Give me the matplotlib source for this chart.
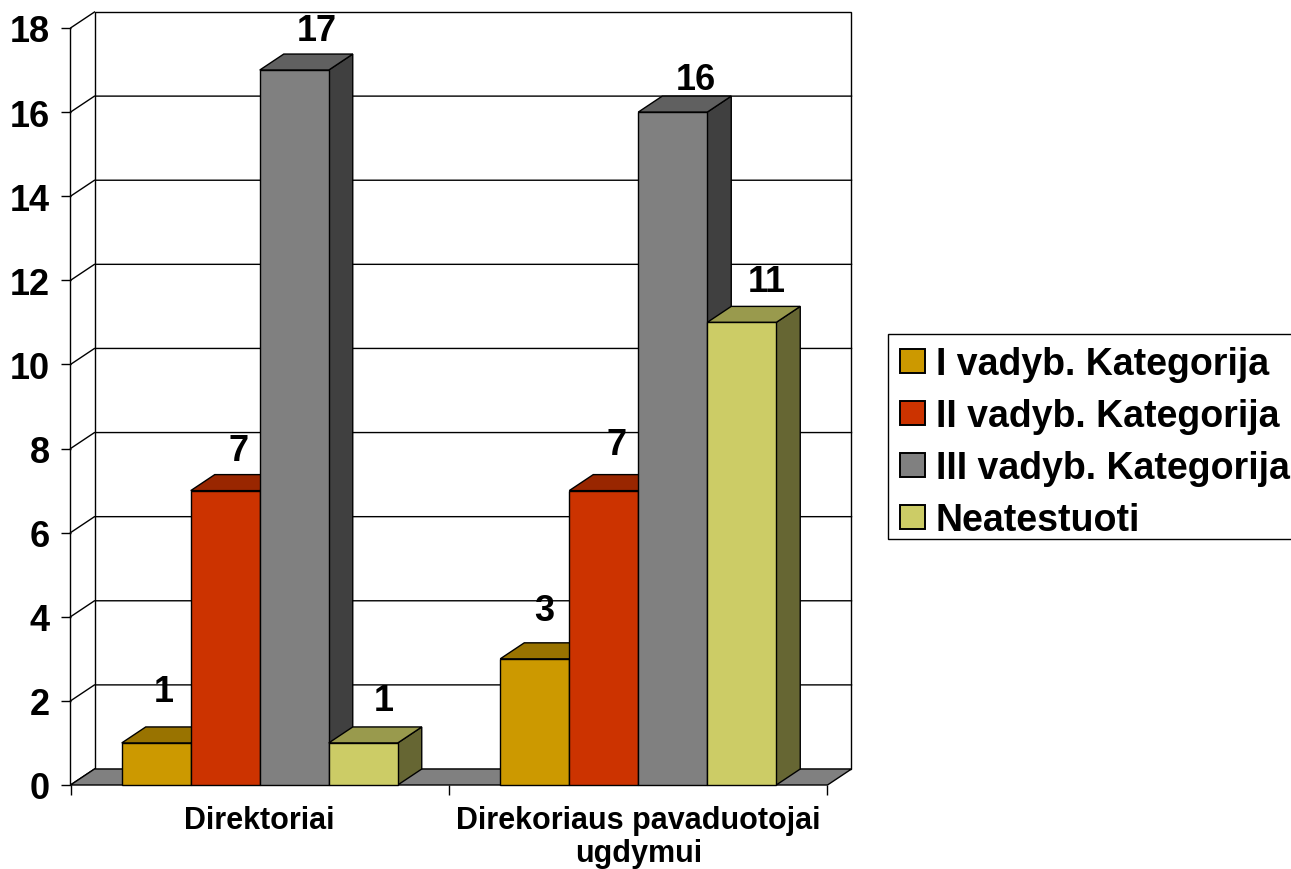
#!/usr/bin/env python3

import matplotlib
matplotlib.use('Agg')
import matplotlib.pyplot as plt
from matplotlib.patches import Polygon, Rectangle

categories = ['Direktoriai', 'Direkoriaus pavaduotojai\nugdymui']
series_names = ['I vadyb. Kategorija', 'II vadyb. Kategorija',
                'III vadyb. Kategorija', 'Neatestuoti']
values = [[1, 3],
          [7, 7],
          [17, 16],
          [1, 11]]
front_colors = ['#CC9900', '#CC3300', '#808080', '#CCCC66']
top_colors = ['#997300', '#992600', '#606060', '#999A4D']
side_colors = ['#665000', '#661A00', '#404040', '#666633']
y_ticks = list(range(0, 19, 2))
# hand placed value labels, pixels away from the default spot
label_nudge = [[(-5, 19), (-3, 16)],
               [(1, 8), (1, 14)],
               [(11, 8), (11, 1)],
               [(9, 10), (13, 9)]]

W, H = 1291, 870
plt.rcParams['font.family'] = ['Liberation Sans', 'DejaVu Sans']

fig = plt.figure(figsize=(W / 100, H / 100), dpi=100)
# front plane of the fake 3d box, in pixels
ax = fig.add_axes([70.5 / W, 1 - 786 / H, 757 / W, 757 / H])
ax.set_xlim(0, 2)
ax.set_ylim(0, 18)
ax.patch.set_visible(False)
for s in ax.spines.values():
    s.set_visible(False)

# depth of the box and of the bars, converted to data units
dx = 24 / 757 * 2
dy = 16 / 757 * 18
bar_w = 69 / 757 * 2
LW = 1.0


def poly(pts, color, z):
    ax.add_patch(Polygon(pts, closed=True, facecolor=color, edgecolor='black',
                         linewidth=LW, zorder=z, clip_on=False))


# walls and floor
ax.plot([dx, 0, 0, dx], [dy, 0, 18, 18 + dy], color='black', lw=LW, zorder=1,
        clip_on=False)
ax.add_patch(Rectangle((dx, dy), 2, 18, facecolor='white', edgecolor='black',
                       linewidth=LW, zorder=1, clip_on=False))
poly([(0, 0), (2, 0), (2 + dx, dy), (dx, dy)], '#808080', 2)
for t in y_ticks[1:-1]:
    ax.plot([0, dx, 2 + dx], [t, t + dy, t + dy], color='black', lw=LW,
            zorder=1.5, clip_on=False)

# left to right keeps the overlaps right
for g in range(len(categories)):
    center = g + 0.5
    for i in range(len(series_names)):
        v = values[i][g]
        left = center + (i - 2) * bar_w
        right = left + bar_w
        z = 3 + g * 10 + i
        poly([(right, 0), (right + dx, dy), (right + dx, v + dy), (right, v)],
             side_colors[i], z)
        poly([(left, v), (right, v), (right + dx, v + dy), (left + dx, v + dy)],
             top_colors[i], z)
        ax.bar(left, v, width=bar_w, align='edge', color=front_colors[i],
               edgecolor='black', linewidth=LW, zorder=z + 0.5, clip_on=False)
        nx, ny = label_nudge[i][g]
        ax.annotate(str(v), (left + bar_w / 2 + dx / 2, v + dy + 0.38),
                    xytext=(nx * 0.72, ny * 0.72), textcoords='offset points',
                    ha='center', va='center', fontsize=26, fontweight='bold',
                    zorder=50)

ax.set_yticks(y_ticks)
ax.set_xticks([0, 1, 2])
ax.set_xticklabels([])
ax.tick_params(axis='both', length=7, width=LW, color='black')
ax.tick_params(axis='y', labelsize=26, pad=8)
for lab in ax.get_yticklabels():
    lab.set_fontweight('bold')
for g, name in enumerate(categories):
    ax.text(g + 0.5, -0.47, name, ha='center', va='top', fontsize=22,
            fontweight='bold', linespacing=1.14)

# legend runs off the right edge of the picture, as in the original
# frame is its own box, the legend's own one comes out too tall
fig.add_artist(Rectangle((888 / W, 1 - 540 / H), 440 / W, 205 / H,
                         transform=fig.transFigure, facecolor='white',
                         edgecolor='black', linewidth=LW))
handles = [Rectangle((0, 0), 1, 1, facecolor=c, edgecolor='black', linewidth=1.4)
           for c in front_colors]
leg = fig.legend(handles, series_names, loc='upper left',
                 bbox_to_anchor=(888 / W, 1 - 335 / H), borderaxespad=0,
                 prop={'weight': 'bold', 'size': 27}, frameon=False,
                 handlelength=0.66, handleheight=0.6, handletextpad=0.29,
                 labelspacing=0.43, borderpad=0.32)
leg.set_zorder(5)

fig.savefig('out.png', dpi=100)
